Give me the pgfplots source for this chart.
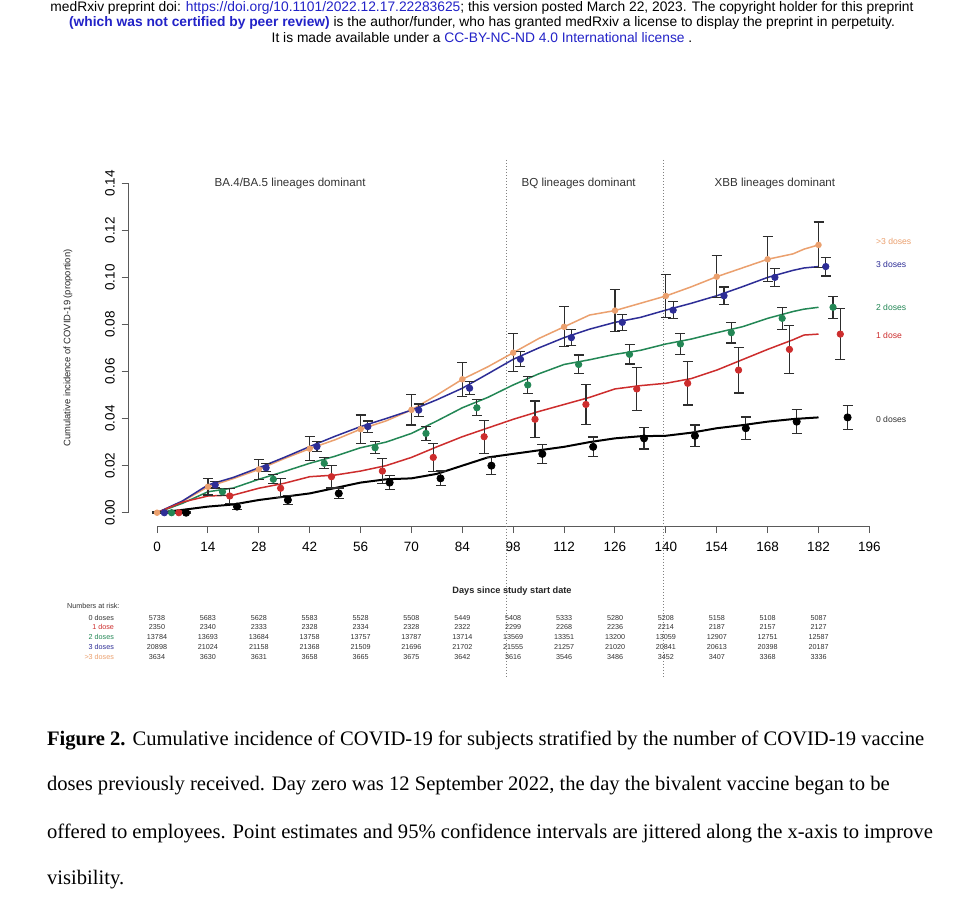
\documentclass[border=0pt]{standalone}
\usepackage{fontspec}
\setmainfont{Liberation Sans}
\newfontfamily\capfont{Liberation Serif}
\usepackage{pgfplots}
\usepackage{pgfplotstable}
\pgfplotsset{compat=1.18}

\definecolor{dose0}{RGB}{0,0,0}
\definecolor{dose1}{RGB}{205,45,45}
\definecolor{dose2}{RGB}{35,135,85}
\definecolor{dose3}{RGB}{45,45,150}
\definecolor{dose4}{RGB}{235,160,110}
\definecolor{linkblue}{RGB}{35,35,200}
\definecolor{axisgray}{RGB}{90,90,90}
\definecolor{barcol}{RGB}{45,45,45}

% cumulative incidence curves, read every 7 days
\pgfplotstableread{
d v0 v1 v2 v3 v4
0 0 0 0 0 0
7 0.0012 0.0045 0.0040 0.0050 0.0048
14 0.0026 0.0071 0.0089 0.0118 0.0110
21 0.0035 0.0075 0.0105 0.0150 0.0145
28 0.0054 0.0104 0.0142 0.0191 0.0184
35 0.0068 0.0125 0.0175 0.0235 0.0230
42 0.0082 0.0153 0.0210 0.0281 0.0272
49 0.0105 0.0160 0.0240 0.0325 0.0310
56 0.0128 0.0177 0.0276 0.0366 0.0355
63 0.0142 0.0200 0.0300 0.0400 0.0390
70 0.0146 0.0235 0.0337 0.0436 0.0437
77 0.0165 0.0280 0.0390 0.0480 0.0500
84 0.0200 0.0323 0.0446 0.0529 0.0567
91 0.0235 0.0360 0.0490 0.0590 0.0620
98 0.0250 0.0397 0.0543 0.0652 0.0680
105 0.0265 0.0430 0.0590 0.0700 0.0740
112 0.0280 0.0460 0.0630 0.0744 0.0790
119 0.0300 0.0490 0.0650 0.0780 0.0840
126 0.0316 0.0526 0.0673 0.0809 0.0859
133 0.0325 0.0540 0.0690 0.0830 0.0890
140 0.0327 0.0550 0.0717 0.0861 0.0921
147 0.0340 0.0570 0.0738 0.0890 0.0960
154 0.0359 0.0606 0.0765 0.0922 0.1003
161 0.0372 0.0650 0.0790 0.0960 0.1040
168 0.0387 0.0694 0.0826 0.1000 0.1077
175 0.0398 0.0735 0.0855 0.1030 0.1100
178 0.0401 0.0755 0.0865 0.1040 0.1120
182 0.0405 0.0759 0.0873 0.1046 0.1138
}\curves

% point estimates with 95% CI half-widths (jittered days)
\pgfplotstableread{
x y e
8 0 0.0003
22 0.0026 0.0013
36 0.0054 0.0019
50 0.0082 0.0023
64 0.0128 0.0029
78 0.0146 0.0031
92 0.0200 0.0036
106 0.0250 0.0040
120 0.0280 0.0042
134 0.0316 0.0045
148 0.0327 0.0046
162 0.0359 0.0048
176 0.0387 0.0050
190 0.0405 0.0051
}\ptsA
\pgfplotstableread{
x y e
6 0 0.0003
20 0.0071 0.0033
34 0.0104 0.0040
48 0.0153 0.0048
62 0.0177 0.0052
76 0.0235 0.0060
90 0.0323 0.0070
104 0.0397 0.0078
118 0.0460 0.0084
132 0.0526 0.0090
146 0.0550 0.0092
160 0.0606 0.0097
174 0.0694 0.0103
188 0.0759 0.0108
}\ptsB
\pgfplotstableread{
x y e
4 0 0.0003
18 0.0089 0.0015
32 0.0142 0.0019
46 0.0210 0.0023
60 0.0276 0.0026
74 0.0337 0.0029
88 0.0446 0.0034
102 0.0543 0.0037
116 0.0630 0.0040
130 0.0673 0.0041
144 0.0717 0.0043
158 0.0765 0.0044
172 0.0826 0.0046
186 0.0873 0.0047
}\ptsC
\pgfplotstableread{
x y e
2 0 0.0003
16 0.0118 0.0013
30 0.0191 0.0017
44 0.0281 0.0021
58 0.0366 0.0024
72 0.0436 0.0026
86 0.0529 0.0028
100 0.0652 0.0032
114 0.0744 0.0034
128 0.0809 0.0035
142 0.0861 0.0036
156 0.0922 0.0037
170 0.1000 0.0039
184 0.1046 0.0040
}\ptsD
\pgfplotstableread{
x y e
0 0 0.0003
14 0.0110 0.0035
28 0.0184 0.0042
42 0.0272 0.0051
56 0.0355 0.0060
70 0.0437 0.0064
84 0.0567 0.0073
98 0.0680 0.0080
112 0.0790 0.0085
126 0.0859 0.0089
140 0.0921 0.0091
154 0.1003 0.0090
168 0.1077 0.0096
182 0.1138 0.0097
}\ptsE

\pgfplotsset{
  ci/.style 2 args={only marks, mark=*, mark size=#2, mark options={draw=#1, fill=#1},
    error bars/.cd, y dir=both, y explicit,
    error bar style={barcol, line width=0.6pt},
    error mark options={rotate=90, barcol, mark size=2.5pt, line width=0.6pt},
    /pgfplots/.cd},
}

\begin{document}
\begin{tikzpicture}
\fill[white] (0,0) rectangle (482pt,-452pt);
\path[use as bounding box] (0,0) rectangle (482pt,-452pt);

\begin{axis}[
  at={(64.35pt,-263pt)}, anchor=south west,
  scale only axis, width=386.7pt, height=177.25pt,
  xmin=-7.8, xmax=205, ymin=-0.00565, ymax=0.145,
  axis x line*=bottom, axis y line*=left,
  axis line style={draw=none},
  tick align=outside, major tick length=3.5pt,
  tick style={axisgray, line width=0.5pt},
  xtick={0,14,...,196},
  ytick={0,0.02,0.04,0.06,0.08,0.10,0.12,0.14},
  scaled y ticks=false,
  ticklabel style={font=\fontsize{6.75}{8}\selectfont},
  xticklabel style={yshift=-1pt},
  yticklabel style={rotate=90, anchor=south, /pgf/number format/.cd, fixed, fixed zerofill, precision=2},
  /pgf/number format/assume math mode=true,
  clip=false,
]
\draw[axisgray, line width=0.5pt] (axis cs:0,-0.00565) -- (axis cs:196,-0.00565);
\draw[axisgray, line width=0.5pt] (axis cs:-7.8,0) -- (axis cs:-7.8,0.14);

\draw[gray, densely dotted, line width=0.5pt] (axis cs:96.2,0.1499) -- (axis cs:96.2,-0.0703);
\draw[gray, densely dotted, line width=0.5pt] (axis cs:139.3,0.1499) -- (axis cs:139.3,-0.0703);

\addplot[dose4, line width=0.75pt] table[x=d, y=v4] {\curves};
\addplot[dose3, line width=0.75pt] table[x=d, y=v3] {\curves};
\addplot[dose2, line width=0.75pt] table[x=d, y=v2] {\curves};
\addplot[dose1, line width=0.75pt] table[x=d, y=v1] {\curves};
\addplot[dose0, line width=1pt] table[x=d, y=v0] {\curves};

\addplot[ci={dose4}{1.4pt}] table[x=x, y=y, y error=e] {\ptsE};
\addplot[ci={dose3}{1.6pt}] table[x=x, y=y, y error=e] {\ptsD};
\addplot[ci={dose2}{1.6pt}] table[x=x, y=y, y error=e] {\ptsC};
\addplot[ci={dose1}{1.6pt}] table[x=x, y=y, y error=e] {\ptsB};
\addplot[ci={dose0}{1.8pt}] table[x=x, y=y, y error=e] {\ptsA};

\node[font=\fontsize{5.8}{6}\selectfont, text=black!80] at (axis cs:36.6,0.140) {BA.4/BA.5 lineages dominant};
\node[font=\fontsize{5.8}{6}\selectfont, text=black!80] at (axis cs:116,0.140) {BQ lineages dominant};
\node[font=\fontsize{5.8}{6}\selectfont, text=black!80] at (axis cs:170,0.140) {XBB lineages dominant};
\end{axis}

\begin{scope}[x=0.5pt, y=-0.5pt]
% header
\node[font=\fontsize{6.9}{8}\selectfont] at (482,8) {medRxiv preprint doi: \textcolor{linkblue}{https://doi.org/10.1101/2022.12.17.22283625}; this version posted March 22, 2023. The copyright holder for this preprint};
\node[font=\fontsize{6.9}{8}\selectfont] at (482,23) {\textcolor{linkblue}{\bfseries (which was not certified by peer review)} is the author/funder, who has granted medRxiv a license to display the preprint in perpetuity.};
\node[font=\fontsize{6.9}{8}\selectfont] at (482,38) {It is made available under a \textcolor{linkblue}{CC-BY-NC-ND 4.0 International license} .};

% y label, x label
\node[rotate=90, font=\fontsize{4.7}{5}\selectfont, text=black!85] at (68,348) {Cumulative incidence of COVID-19 (proportion)};
\node[font=\bfseries\fontsize{4.6}{5}\selectfont, text=black!85] at (512,590.7) {Days since study start date};

% curve labels
\begin{scope}[every node/.style={anchor=west, font=\fontsize{4.3}{5}\selectfont}]
\node[text=dose4] at (869,241.7) {>3 doses};
\node[text=dose3] at (869,264) {3 doses};
\node[text=dose2] at (869,307) {2 doses};
\node[text=dose1] at (869,335.7) {1 dose};
\node[text=black!80] at (869,419) {0 doses};
\end{scope}

% numbers at risk
\node[anchor=west, font=\fontsize{3.6}{4}\selectfont, text=black!80] at (60,606) {Numbers at risk:};
\begin{scope}[every node/.style={anchor=east, font=\fontsize{3.6}{4}\selectfont}]
\node[text=black!80] at (121,617.7) {0 doses};
\node[text=dose1] at (121,627.3) {1 dose};
\node[text=dose2] at (121,637.3) {2 doses};
\node[text=dose3] at (121,647.3) {3 doses};
\node[text=dose4] at (121,657) {>3 doses};
\end{scope}
\begin{scope}[every node/.style={font=\fontsize{3.6}{4}\selectfont, text=black!80}]
\foreach \v [count=\i from 0] in {5738,5683,5628,5583,5528,5508,5449,5408,5333,5280,5208,5158,5108,5087}
  \node at ({157+50.89*\i},617.7) {\v};
\foreach \v [count=\i from 0] in {2350,2340,2333,2328,2334,2328,2322,2299,2268,2236,2214,2187,2157,2127}
  \node at ({157+50.89*\i},627.3) {\v};
\foreach \v [count=\i from 0] in {13784,13693,13684,13758,13757,13787,13714,13569,13351,13200,13059,12907,12751,12587}
  \node at ({157+50.89*\i},637.3) {\v};
\foreach \v [count=\i from 0] in {20898,21024,21158,21368,21509,21696,21702,21555,21257,21020,20841,20613,20398,20187}
  \node at ({157+50.89*\i},647.3) {\v};
\foreach \v [count=\i from 0] in {3634,3630,3631,3658,3665,3675,3642,3616,3546,3486,3452,3407,3368,3336}
  \node at ({157+50.89*\i},657) {\v};
\end{scope}

% caption
\begin{scope}[every node/.style={anchor=west, font=\capfont\fontsize{10.3}{11}\selectfont}]
\node at (40,741) {\textbf{Figure 2.} Cumulative incidence of COVID-19 for subjects stratified by the number of COVID-19 vaccine};
\node at (40,786) {doses previously received. Day zero was 12 September 2022, the day the bivalent vaccine began to be};
\node at (40,833) {offered to employees. Point estimates and 95\% confidence intervals are jittered along the x-axis to improve};
\node at (40,880) {visibility.};
\end{scope}
\end{scope}
\end{tikzpicture}
\end{document}
